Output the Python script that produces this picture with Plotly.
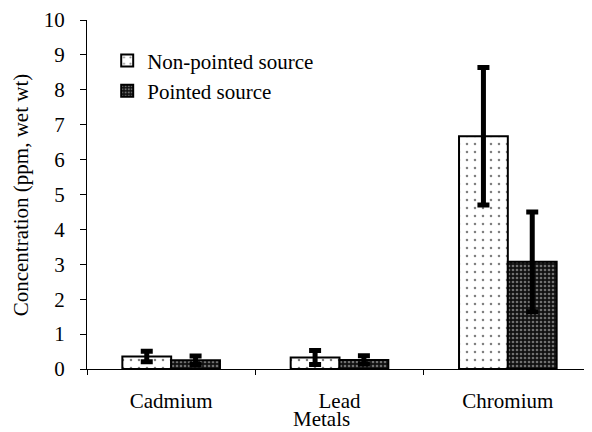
import plotly.graph_objects as go

metals = ["Cadmium", "Lead", "Chromium"]
non_pointed = [0.36, 0.33, 6.67]
non_pointed_err = [0.15, 0.2, 1.97]
pointed = [0.25, 0.26, 3.07]
pointed_err = [0.12, 0.12, 1.43]
y_ticks = list(range(0, 11))

font = "Liberation Serif"
fs = 21

fig = go.Figure()
fig.add_trace(go.Bar(
    x=metals, y=non_pointed, name="Non-pointed source", legendgroup="a",
    marker=dict(color="white", line=dict(color="black", width=2),
                pattern=dict(shape=".", fgcolor="black", bgcolor="white", size=8, solidity=0.08)),
    error_y=dict(type="data", array=non_pointed_err, color="black", thickness=5, width=6),
))
fig.add_trace(go.Bar(
    x=metals, y=pointed, name="Pointed source", legendgroup="b",
    marker=dict(color="black", line=dict(color="black", width=2),
                pattern=dict(shape=".", fgcolor="#cfcfcf", bgcolor="#111111", size=4, solidity=0.35)),
    error_y=dict(type="data", array=pointed_err, color="black", thickness=5, width=6),
))

fig.update_layout(
    width=584, height=424,
    margin=dict(l=79, r=0, t=12, b=63),
    paper_bgcolor="white", plot_bgcolor="white",
    barmode="group", bargap=0.42, bargroupgap=0,
    font=dict(family=font, size=fs, color="black"),
    showlegend=True,
    legend=dict(x=0.04, y=0.9415, xanchor="left", yanchor="top",
                bgcolor="rgba(0,0,0,0)", font=dict(size=fs, family=font),
                itemwidth=30, traceorder="grouped", tracegroupgap=0),
    xaxis=dict(showline=True, linecolor="black", linewidth=1,
               ticks="outside", tickson="boundaries", ticklen=5, tickcolor="black",
               ticklabelstandoff=13, showgrid=False, zeroline=False,
               tickfont=dict(size=fs, family=font)),
    yaxis=dict(range=[0, 10], tickvals=y_ticks, showline=True, linecolor="black", linewidth=1,
               ticks="outside", ticklen=6, tickcolor="black", showgrid=False, zeroline=False,
               ticklabelstandoff=11, tickfont=dict(size=fs, family=font)),
)
fig.add_annotation(text="Metals", x=0.465, xref="paper", y=-0.1433, yref="paper",
                   showarrow=False, xanchor="center", yanchor="middle", borderpad=0,
                   font=dict(size=fs, family=font))
fig.add_annotation(text="Concentration (ppm, wet wt)", x=-0.131, xref="paper", y=0.5, yref="paper",
                   showarrow=False, xanchor="center", yanchor="middle", textangle=-90,
                   font=dict(size=fs, family=font))
fig.write_html("out.html")
